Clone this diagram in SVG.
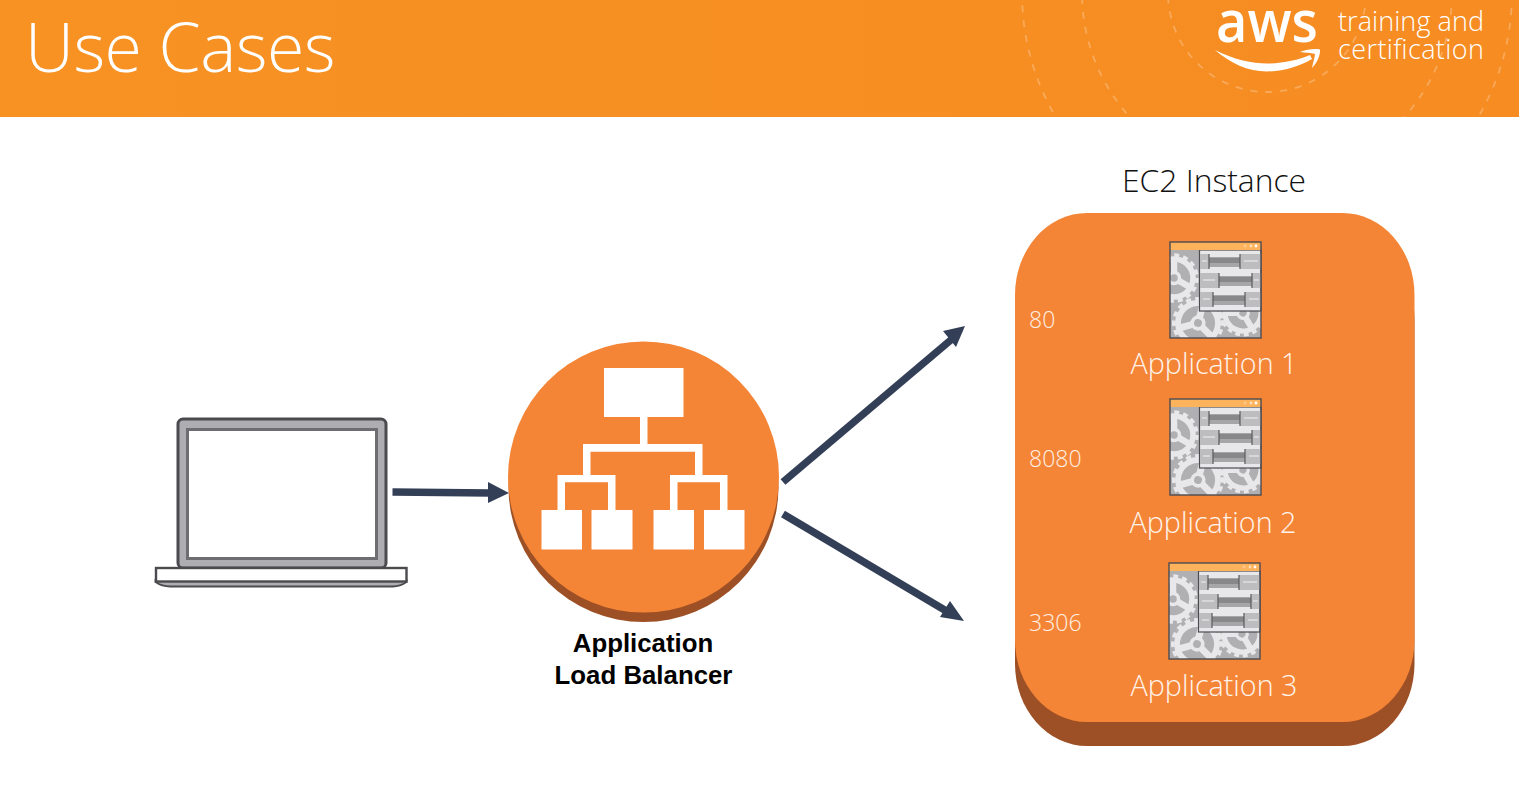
<svg xmlns="http://www.w3.org/2000/svg" xmlns:xlink="http://www.w3.org/1999/xlink" width="1519" height="805" viewBox="0 0 1519 805">
<style>
.lt{font-family:"Open Sans","Liberation Sans",sans-serif;font-weight:300}
.w{fill:#fff}
.app{font-size:28.7px;fill:#fff4ec;text-anchor:middle}
.port{font-size:23px;fill:#fff0e4}
.alb{font-family:"Liberation Sans",Arial,sans-serif;font-weight:700;font-size:25.8px;fill:#000;text-anchor:middle}
.ring{fill:none;stroke:#fff;stroke-opacity:.25;stroke-width:1.8;stroke-dasharray:7 8}
.cn{fill:none;stroke:#333f56;stroke-width:7.5}
.head{fill:#333f56}
.g1{fill:#b0b0b3;stroke:#e8e8ea;stroke-width:5.500}
.g2{fill:none;stroke:#e8e8ea;stroke-width:3.500;stroke-dasharray:5 4}
.hd{fill:#b0b0b3;stroke:#e8e8ea;stroke-width:3.500}
.sp{stroke:#e8e8ea;stroke-width:6.500}
.h{fill:#bdbdc0}
.b{fill:#a6a6a9}
.bc{fill:#88888b}
.ed{stroke:#5a5a5e;stroke-width:1.200}
.tk{stroke:#f1f1f3;stroke-width:1}
</style>
<defs>
<linearGradient id="hdr" x1="0" x2="1" y1="0" y2="0"><stop offset="0" stop-color="#f79223"/><stop offset="1" stop-color="#f68c22"/></linearGradient>
<clipPath id="ic"><rect width="91" height="96"/></clipPath>
<g id="gear"><circle r="23" class="g2"/><circle r="19" class="g1"/><path class="sp" d="M0 0V-18M0 0L15.600 9M0 0L-15.600 9"/><circle r="5.500" class="hd"/></g>
<g id="appicon">
<rect width="91" height="96" fill="#b0b0b3"/>
<g clip-path="url(#ic)">
<use xlink:href="#gear" transform="translate(4 36)"/>
<use xlink:href="#gear" transform="translate(73 71) rotate(30) scale(.95)"/>
<use xlink:href="#gear" transform="translate(28 81) rotate(15) scale(1.05)"/>
</g>
<rect x="29.500" y="8" width="61.500" height="61" fill="#e8e8ea" stroke="#4c4c50" stroke-width="1.200"/>
<rect class="h" x="30" y="12" width="9" height="15"/><rect class="b" x="39" y="15" width="31" height="10"/><rect class="bc" x="39" y="16" width="31" height="5"/><rect class="h" x="70" y="12" width="21" height="15"/>
<rect class="h" x="30" y="31" width="19" height="15"/><rect class="b" x="49" y="34" width="33" height="10"/><rect class="bc" x="49" y="35" width="33" height="5"/><rect class="h" x="82" y="31" width="9" height="15"/>
<rect class="h" x="30" y="50" width="13" height="15"/><rect class="b" x="43" y="53" width="32" height="10"/><rect class="bc" x="43" y="54" width="32" height="5"/><rect class="h" x="75" y="50" width="16" height="15"/>
<path class="ed" d="M39 12v15M70 12v15M49 31v15M82 31v15M43 50v15M75 50v15"/>
<path class="tk" d="M32 19h5M74 19h14M33 38h12M84 38h5M33 57h7M79 57h10"/>
<rect width="91" height="8" fill="#fdb35c"/>
<circle cx="75" cy="4" r="1.400" fill="#fdc98d"/><circle cx="81" cy="4" r="1.400" fill="#fddcb8"/><circle cx="86" cy="4" r="1.400" fill="#fff"/>
<rect width="91" height="96" fill="none" stroke="#4c4c50" stroke-width="1.400"/>
</g>
</defs>

<rect width="1519" height="805" fill="#fff"/>

<g id="header">
<rect width="1519" height="117" fill="url(#hdr)"/>
<circle class="ring" cx="1267" cy="-7" r="99"/>
<circle class="ring" cx="1267" cy="-7" r="185"/>
<circle class="ring" cx="1267" cy="-7" r="245"/>
<text class="lt w" x="25" y="72" font-size="68" letter-spacing="-0.5">Use Cases</text>
<g id="aws-logo">
<text x="1216" y="41.500" font-family="'Open Sans',sans-serif" font-weight="600" font-size="57" fill="#fff" textLength="102" lengthAdjust="spacingAndGlyphs">aws</text>
<path d="M1215 50C1235 60 1252 63.500 1267 63.500C1283 63.500 1298 60 1310 55L1312 59C1298 67 1283 71.500 1267 71.500C1248 71.500 1230 63 1215 50Z" fill="#fff"/>
<path d="M1300 52C1306 49.500 1315 48.500 1320 49.500C1320.500 55 1317 63 1312 68C1313 62 1315 57 1315 54C1311 53 1305 52.500 1300 52Z" fill="#fff"/>
<text class="lt w" x="1338" y="30.500" font-size="27" textLength="146">training and</text>
<text class="lt w" x="1338" y="58.500" font-size="27" textLength="146">certification</text>
</g>
</g>

<g id="connectors">
<path class="cn" d="M392.500 492L490 493"/>
<polygon class="head" points="488,482 509,493 488,503"/>
<path class="cn" d="M783 482L952 339"/>
<polygon class="head" points="965,326 956,347 943,331"/>
<path class="cn" d="M783 514L948 612"/>
<polygon class="head" points="964,621 950,601 940,617"/>
</g>

<g id="laptop">
<rect x="178" y="419" width="208" height="149" rx="5" fill="#aeaeb2" stroke="#4a4a4f" stroke-width="3"/>
<rect x="187.500" y="429.500" width="189" height="129" fill="#fff" stroke="#6d6d72" stroke-width="3"/>
<path d="M155.500 580V582Q162 586.500 170 586.500H393Q400 586.500 406.500 582V580Z" fill="#aeaeb2" stroke="#4a4a4f" stroke-width="1.800"/>
<rect x="156" y="568" width="250.500" height="13.500" fill="#fff" stroke="#4a4a4f" stroke-width="2.400"/>
</g>

<g id="alb">
<circle cx="643.500" cy="487" r="135" fill="#9d5025"/>
<circle cx="643.500" cy="477" r="135.500" fill="#f58536"/>
<g fill="#fff">
<rect x="604" y="368" width="79.500" height="49"/>
<rect x="640" y="417" width="7.500" height="28"/>
<path d="M583 444H702.500V475H727.500V510H720V482.300H677.500V510H670V475H695V451.700H590.500V475H615.500V510H608V482.300H565V510H557.500V475H583Z"/>
<rect x="541.500" y="510" width="40.500" height="39.500"/>
<rect x="591.500" y="510" width="41" height="39.500"/>
<rect x="653.500" y="510" width="40.500" height="39.500"/>
<rect x="704" y="510" width="40.500" height="39.500"/>
</g>
<text class="alb" x="643" y="652">Application</text>
<text class="alb" x="643.500" y="684">Load Balancer</text>
</g>

<g id="ec2-instance">
<text class="lt" x="1214" y="192" font-size="31.800" fill="#111" text-anchor="middle">EC2 Instance</text>
<rect x="1015" y="237" width="399.500" height="509" rx="72" ry="82" fill="#9d5025"/>
<rect x="1015" y="213" width="399.500" height="509" rx="72" ry="82" fill="#f58536"/>
</g>

<g id="app-1">
<use xlink:href="#appicon" x="1170" y="242"/>
<text class="lt port" x="1029" y="328">80</text>
<text class="lt app" x="1214" y="374">Application 1</text>
</g>
<g id="app-2">
<use xlink:href="#appicon" x="1170" y="399"/>
<text class="lt port" x="1029" y="467">8080</text>
<text class="lt app" x="1213" y="533">Application 2</text>
</g>
<g id="app-3">
<use xlink:href="#appicon" x="1169" y="563"/>
<text class="lt port" x="1029" y="631">3306</text>
<text class="lt app" x="1214" y="696">Application 3</text>
</g>
</svg>
